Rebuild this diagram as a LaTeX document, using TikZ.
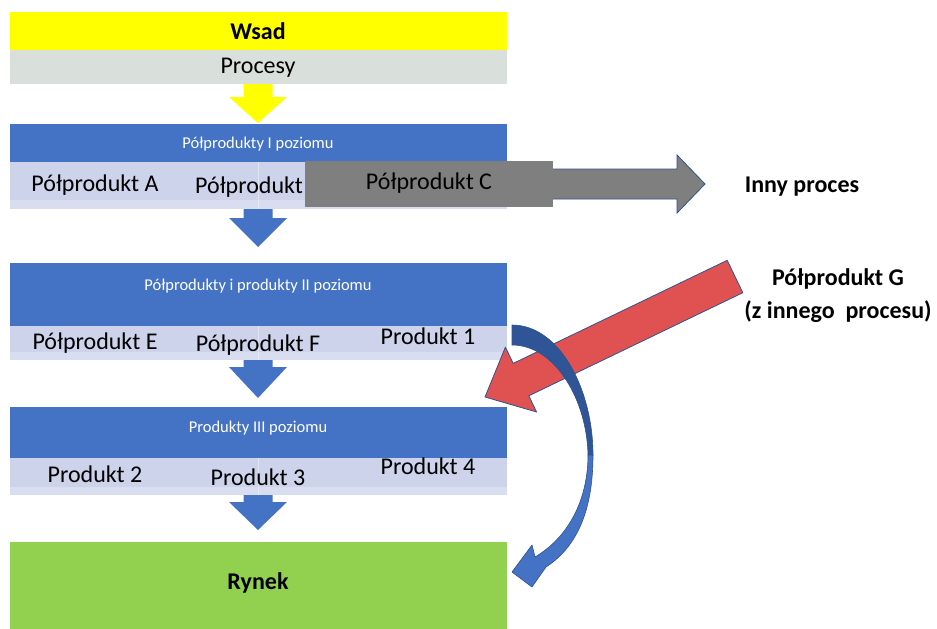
\documentclass[tikz,border=0pt]{standalone}
\usepackage{fontspec}
\setmainfont{Carlito}
\definecolor{wsadyellow}{HTML}{FFFF00}
\definecolor{procgrey}{HTML}{D9DFDA}
\definecolor{bandblue}{HTML}{4472C4}
\definecolor{bandlight}{HTML}{CCD3EB}
\definecolor{bandstrip}{HTML}{D8DDF0}
\definecolor{boxgrey}{HTML}{7F7F7F}
\definecolor{edgeblue}{HTML}{2F528F}
\definecolor{redarrow}{HTML}{E05252}
\definecolor{market}{HTML}{92D050}
\definecolor{darkcurve}{HTML}{2F5597}
\newcommand\blockdown[5]{% colour, x centre, y shaft top, y head base, y tip
  \fill[#1] (#2-14.5,#3) -- (#2+14.5,#3) -- (#2+14.5,#4) -- (#2+29,#4)
    -- (#2,#5) -- (#2-29,#4) -- (#2-14.5,#4) -- cycle;}
\tikzset{
  big/.style={font=\fontsize{24}{28}\selectfont, inner sep=0pt},
  bigbold/.style={font=\fontsize{24}{28}\selectfont\bfseries, inner sep=0pt},
  title/.style={font=\fontsize{16.5}{20}\selectfont, text=white, inner sep=0pt},
}
\begin{document}
\begin{tikzpicture}[x=1pt,y=-1pt]
\useasboundingbox (0,0) rectangle (937,629);
% top
\fill[wsadyellow] (10,12) rectangle (507,50);
\fill[procgrey] (10,50) rectangle (507,84);
\node[bigbold] (wsad) at (258,31) {Wsad};
\node[big] (procesy) at (258,68) {Procesy};
\blockdown{wsadyellow}{258}{84}{97}{123}
% level 1
\blockdown{bandblue}{258}{200}{218}{247}
\fill[bandblue] (10,124) rectangle (507,162);
\fill[bandlight] (10,162) rectangle (507,200);
\fill[bandstrip] (10,200) rectangle (507,209);
\draw[white,opacity=.4] (258,162) -- (258,209);
\node[title] (l1) at (258,144) {Półprodukty I poziomu};
\node[big] (pa) at (95,185) {Półprodukt A};
\node[big,anchor=west] (pb) at (195,187) {Półprodukt};
% grey arrow and box
\draw[fill=boxgrey,draw=edgeblue,line width=0.8pt] (552,169) -- (677,169) -- (677,155) -- (705,184)
  -- (677,213) -- (677,199) -- (552,199) -- cycle;
\fill[boxgrey] (305,161) rectangle (553,207);
\node[big] (pc) at (429,183) {Półprodukt C};
\node[bigbold] (inny) at (802,187) {Inny proces};
% level 2
\blockdown{bandblue}{258}{352}{367}{398}
\fill[bandblue] (10,263) rectangle (507,326);
\fill[bandlight] (10,326) rectangle (507,352);
\fill[bandstrip] (10,352) rectangle (507,360);
\draw[white,opacity=.4] (258,326) -- (258,360);
\node[title] (l2) at (258,286) {Półprodukty i produkty II poziomu};
\node[big] (pe) at (95,343) {Półprodukt E};
\node[big] (pf) at (258,345) {Półprodukt F};
\node[big] (p1) at (428,336) {Produkt 1};
% level 3
\blockdown{bandblue}{258}{487}{502}{530}
\fill[bandblue] (10,407) rectangle (507,458);
\fill[bandlight] (10,458) rectangle (507,487);
\fill[bandstrip] (10,487) rectangle (507,495);
\draw[white,opacity=.4] (258,458) -- (258,495);
\node[title] (l3) at (258,428) {Produkty III poziomu};
\node[big] (p2) at (95,474) {Produkt 2};
\node[big] (p3) at (258,477) {Produkt 3};
\node[big] (p4) at (428,466) {Produkt 4};
% market
\fill[market] (10,542) rectangle (507,629);
\node[bigbold] (rynek) at (258,583) {Rynek};
% red arrow
\draw[fill=redarrow,draw=edgeblue,line width=0.8pt,line join=round]
  (727.2,260.3) -- (513.2,363.4) -- (505.4,347.2) -- (485,397) -- (536.6,412)
  -- (528.8,395.8) -- (742.8,292.7) -- cycle;
\node[bigbold] (pg) at (838,279) {Półprodukt G};
\node[bigbold] (pg2) at (838,312) {(z innego~ procesu)};
% curved arrow
\draw[fill=darkcurve,draw=edgeblue,line width=0.6pt]
  (512,325) .. controls (560,325) and (593,390) .. (593,455) -- (588,455)
  .. controls (587,400) and (555,345) .. (512,345) -- cycle;
\draw[fill=bandblue,draw=edgeblue,line width=0.6pt,line join=round]
  (593,455) .. controls (593,505) and (580,545) .. (546,567) -- (532,587) -- (512,572)
  -- (532,545) -- (535,557) .. controls (572,535) and (588,495) .. (588,455) -- cycle;
\end{tikzpicture}
\end{document}
